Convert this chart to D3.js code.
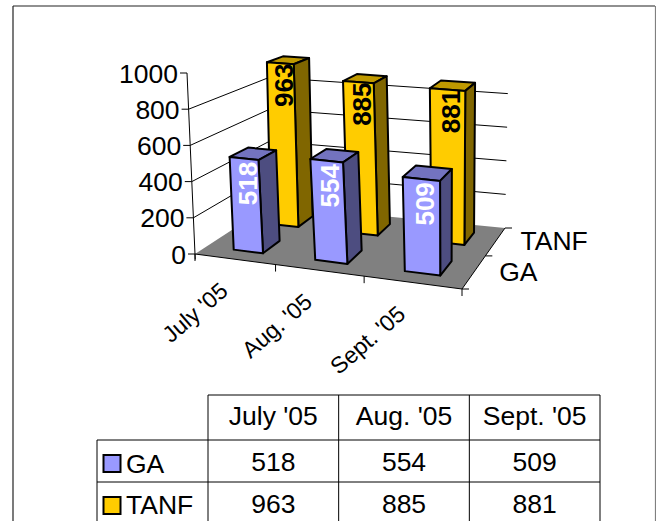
<!DOCTYPE html>
<html>
<head>
<meta charset="utf-8">
<script src="https://cdn.jsdelivr.net/npm/d3@7"></script>
<style>
  html, body { margin: 0; padding: 0; background: #fff; overflow: hidden; }
  text { font-family: "Liberation Sans", Arial, sans-serif; fill: #000; }
</style>
</head>
<body>
<div id="chart"></div>
<script>
const months = ["July '05", "Aug. '05", "Sept. '05"];
const seriesNames = ["GA", "TANF"];
const gaValues = [518, 554, 509];
const tanfValues = [963, 885, 881];
const yTicks = [0, 200, 400, 600, 800, 1000];
const gridTicks = [200, 400, 600, 800];

const width = 656;
const height = 521;
const fontSize = 26.5;

const faceColors = {
    GA: { front: "#9999FF", side: "#4D4D80", top: "#7373BF", text: "#fff", labelDrop: 25 },
    TANF: { front: "#FFCC00", side: "#806600", top: "#BF9900", text: "#000", labelDrop: 22 }
};

// box corners in pixels: front left, front right, back right, back left
const floorQuad = [[195, 254], [462, 289], [505, 228], [270, 205]];
const ceilQuad = [[187, 73], [465, 99], [508.5, 60], [269, 45.5]];

function quadMap(q) {
    const [[x0, y0], [x1, y1], [x2, y2], [x3, y3]] = q;
    const dx1 = x1 - x2, dx2 = x3 - x2, dx3 = x0 - x1 + x2 - x3;
    const dy1 = y1 - y2, dy2 = y3 - y2, dy3 = y0 - y1 + y2 - y3;
    const det = dx1 * dy2 - dx2 * dy1;
    const g = (dx3 * dy2 - dx2 * dy3) / det;
    const h = (dx1 * dy3 - dx3 * dy1) / det;
    const a = x1 - x0 + g * x1, b = x3 - x0 + h * x3;
    const d = y1 - y0 + g * y1, e = y3 - y0 + h * y3;
    return (u, w) => {
        const k = g * u + h * w + 1;
        return [(a * u + b * w + x0) / k, (d * u + e * w + y0) / k];
    };
}

const floorAt = quadMap(floorQuad);
const ceilAt = quadMap(ceilQuad);

const yScale = d3.scaleLinear().domain([0, 1000]).range([0, 1]);
const xScale = d3.scaleBand().domain(months).range([0, 1]).paddingInner(0.63).paddingOuter(0.32).align(0.547);
const zScale = d3.scaleBand().domain(seriesNames).range([0, 1]).paddingInner(0.55).paddingOuter(0.28);

// u along the months, w into the depth, v is the value
function project(u, w, v) {
    const a = floorAt(u, w), b = ceilAt(u, w), t = yScale(v);
    return [a[0] + (b[0] - a[0]) * t, a[1] + (b[1] - a[1]) * t];
}

const svg = d3.select("#chart").append("svg")
    .attr("width", width)
    .attr("height", height)
    .style("display", "block");

// outer frame
svg.append("line").attr("x1", 13).attr("y1", 6).attr("x2", 13).attr("y2", height).attr("stroke", "#222").attr("stroke-width", 1.2);
svg.append("line").attr("x1", 13).attr("y1", 6).attr("x2", 655).attr("y2", 6).attr("stroke", "#222").attr("stroke-width", 1.2);
svg.append("line").attr("x1", 655.5).attr("y1", 6).attr("x2", 655.5).attr("y2", height).attr("stroke", "#808080").attr("stroke-width", 1.2);

const line = d3.line();
const chart = svg.append("g");

// floor
chart.append("path")
    .attr("d", line([project(0, 0, 0), project(1, 0, 0), project(1, 1, 0), project(0, 1, 0)]) + "Z")
    .attr("fill", "#808080")
    .attr("stroke", "none");

// gridlines on both walls
gridTicks.forEach(t => {
    chart.append("path")
        .attr("d", line([project(0, 0, t), project(0, 1, t), project(1, 1, t)]))
        .attr("fill", "none")
        .attr("stroke", "#000")
        .attr("stroke-width", 1);
});

// front and depth edges of the floor
chart.append("path")
    .attr("d", line([project(0, 0, 0), project(1, 0, 0), project(1, 1, 0)]))
    .attr("fill", "none")
    .attr("stroke", "#000")
    .attr("stroke-width", 1);

// value axis
chart.append("path")
    .attr("d", line([project(0, 0, 1000), project(0, 0, -30)]))
    .attr("fill", "none")
    .attr("stroke", "#000")
    .attr("stroke-width", 1);

yTicks.forEach(t => {
    const [x, y] = project(0, 0, t);
    chart.append("line")
        .attr("x1", x - 7).attr("y1", y).attr("x2", x).attr("y2", y)
        .attr("stroke", "#000");
    chart.append("text")
        .attr("x", x - 9)
        .attr("y", y + 9.5)
        .attr("text-anchor", "end")
        .attr("font-size", fontSize)
        .text(t);
});

// month ticks and labels
[0, 1 / 3, 2 / 3, 1].forEach(u => {
    const [x, y] = project(u, 0, 0);
    chart.append("line")
        .attr("x1", x).attr("y1", y).attr("x2", x).attr("y2", y + 7)
        .attr("stroke", "#000");
});

months.forEach((m, i) => {
    const [x, y] = project((i + 0.5) / 3, 0, 0);
    chart.append("text")
        .attr("transform", `translate(${x - 5}, ${y + 34}) rotate(-41)`)
        .attr("text-anchor", "end")
        .attr("font-size", 23)
        .text(m);
});

// series names by the depth edge
seriesNames.forEach((s, i) => {
    const [x, y] = project(1, (i + 0.5) / 2, 0);
    chart.append("text")
        .attr("x", x + 25)
        .attr("y", y + 9)
        .attr("font-size", fontSize)
        .text(s);
});
[0, 0.5, 1].forEach(w => {
    const [x, y] = project(1, w, 0);
    chart.append("line")
        .attr("x1", x).attr("y1", y).attr("x2", x + 7).attr("y2", y)
        .attr("stroke", "#000");
});

function drawBar(series, month, value) {
    const c = faceColors[series];
    const u0 = xScale(month), u1 = u0 + xScale.bandwidth();
    const w0 = zScale(series), w1 = w0 + zScale.bandwidth();
    const g = chart.append("g")
        .attr("stroke", "#000")
        .attr("stroke-width", 2)
        .attr("stroke-linejoin", "round");

    const face = (pts, fill) => g.append("path").attr("d", line(pts) + "Z").attr("fill", fill);
    face([project(u0, w0, value), project(u1, w0, value), project(u1, w1, value), project(u0, w1, value)], c.top);
    face([project(u1, w0, 0), project(u1, w1, 0), project(u1, w1, value), project(u1, w0, value)], c.side);
    face([project(u0, w0, 0), project(u1, w0, 0), project(u1, w0, value), project(u0, w0, value)], c.front);

    const [lx, ly] = project((u0 + u1) / 2, w0, value);
    g.append("text")
        .attr("transform", `translate(${lx + 13}, ${ly + c.labelDrop}) rotate(-90)`)
        .attr("text-anchor", "middle")
        .attr("font-size", 26)
        .attr("font-weight", "bold")
        .attr("stroke", "none")
        .style("fill", c.text)
        .text(value);
}

// back row first
months.forEach((m, i) => drawBar("TANF", m, tanfValues[i]));
months.forEach((m, i) => drawBar("GA", m, gaValues[i]));

// data table
const table = svg.append("g");
const colScale = d3.scaleBand().domain(months).range([208, 600]);
const rowLines = [395, 440, 482];
const tableBottom = height;
const rowBase = [471, 513];

table.append("line").attr("x1", 208).attr("y1", rowLines[0]).attr("x2", 600).attr("y2", rowLines[0]);
table.append("line").attr("x1", 97).attr("y1", rowLines[1]).attr("x2", 600).attr("y2", rowLines[1]);
table.append("line").attr("x1", 97).attr("y1", rowLines[2]).attr("x2", 600).attr("y2", rowLines[2]);
table.append("line").attr("x1", 97).attr("y1", rowLines[1]).attr("x2", 97).attr("y2", tableBottom);
months.forEach(m => {
    table.append("line").attr("x1", colScale(m)).attr("y1", rowLines[0]).attr("x2", colScale(m)).attr("y2", tableBottom);
});
table.append("line").attr("x1", 600).attr("y1", rowLines[0]).attr("x2", 600).attr("y2", tableBottom);
table.selectAll("line").attr("stroke", "#000").attr("stroke-width", 1);

months.forEach((m, i) => {
    const cx = colScale(m) + colScale.bandwidth() / 2;
    table.append("text").attr("x", cx).attr("y", 425).attr("text-anchor", "middle").attr("font-size", fontSize).text(m);
    table.append("text").attr("x", cx).attr("y", rowBase[0]).attr("text-anchor", "middle").attr("font-size", fontSize).text(gaValues[i]);
    table.append("text").attr("x", cx).attr("y", rowBase[1]).attr("text-anchor", "middle").attr("font-size", fontSize).text(tanfValues[i]);
});

seriesNames.forEach((s, i) => {
    table.append("rect")
        .attr("x", 103.5).attr("y", rowBase[i] - 16).attr("width", 17).attr("height", 17)
        .attr("fill", faceColors[s].front)
        .attr("stroke", "#000")
        .attr("stroke-width", 2);
    table.append("text").attr("x", 126).attr("y", rowBase[i] + 2 - i).attr("font-size", fontSize).text(s);
});
</script>
</body>
</html>
